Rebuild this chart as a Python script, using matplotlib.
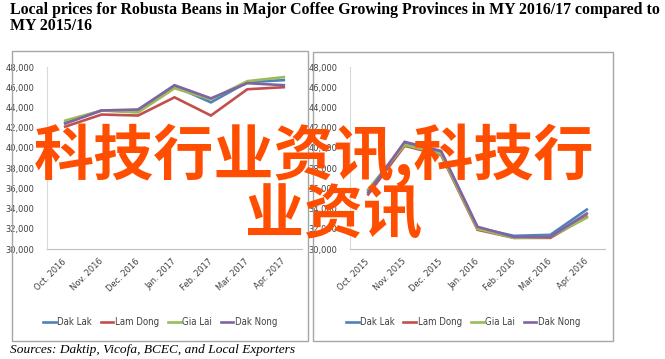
import matplotlib
matplotlib.use("Agg")
import matplotlib.pyplot as plt
from matplotlib.patches import Rectangle
from matplotlib.ticker import FuncFormatter
from matplotlib import font_manager

title_text = ("Local prices for Robusta Beans in Major Coffee Growing Provinces in MY 2016/17 compared to\n"
              "MY 2015/16")
source_text = "Sources: Daktip, Vicofa, BCEC, and Local Exporters"
overlay_line1 = "科技行业资讯,科技行"
overlay_line2 = "业资讯"

series_names = ["Dak Lak", "Lam Dong", "Gia Lai", "Dak Nong"]
series_colors = ["#4F81BD", "#C0504D", "#9BBB59", "#8064A2"]

months_1617 = ["Oct. 2016", "Nov. 2016", "Dec. 2016", "Jan. 2017", "Feb. 2017", "Mar. 2017", "Apr. 2017"]
dak_lak_1617 = [42500, 43700, 43600, 46100, 44500, 46500, 46700]
lam_dong_1617 = [42100, 43300, 43200, 45000, 43200, 45800, 46000]
gia_lai_1617 = [42700, 43700, 43500, 45900, 44800, 46600, 47000]
dak_nong_1617 = [42400, 43700, 43800, 46200, 44900, 46400, 46200]

months_1516 = ["Oct. 2015", "Nov. 2015", "Dec. 2015", "Jan. 2016", "Feb. 2016", "Mar. 2016", "Apr. 2016"]
dak_lak_1516 = [35800, 40400, 39600, 32100, 31300, 31400, 33900]
lam_dong_1516 = [35400, 40200, 39300, 31900, 31100, 31100, 33200]
gia_lai_1516 = [35900, 40300, 39400, 32000, 31100, 31200, 33100]
dak_nong_1516 = [35600, 40600, 39700, 32200, 31200, 31200, 33500]

y_ticks = [30000, 32000, 34000, 36000, 38000, 40000, 42000, 44000, 46000, 48000]

W, H = 665, 359
fig = plt.figure(figsize=(W / 100, H / 100), dpi=100)
fig.patch.set_facecolor("white")

available = {f.name for f in font_manager.fontManager.ttflist}
if "Liberation Sans Narrow" in available:
    tick_font = ["Liberation Sans Narrow", "DejaVu Sans"]
    tick_stretch = "normal"
    tick_size = 7.2
else:
    tick_font = ["DejaVu Sans"]
    tick_stretch = "condensed"
    tick_size = 6.3

def px_rect(x0, y0, x1, y1):
    return [x0 / W, 1 - y1 / H, (x1 - x0) / W, (y1 - y0) / H]

for (x0, y0, x1, y1) in [(12, 51, 308, 341), (313, 52, 613, 341)]:
    fig.patches.append(Rectangle((x0 / W, 1 - y1 / H), (x1 - x0) / W, (y1 - y0) / H,
                                 transform=fig.transFigure, fill=False,
                                 edgecolor="#A6A6A6", linewidth=1.0, zorder=0))

panels = [
    (px_rect(47, 67, 302, 249), months_1617,
     [dak_lak_1617, lam_dong_1617, gia_lai_1617, dak_nong_1617], 160),
    (px_rect(350, 67, 605, 249), months_1516,
     [dak_lak_1516, lam_dong_1516, gia_lai_1516, dak_nong_1516], 463),
]

for rect, months, data, cx in panels:
    ax = fig.add_axes(rect)
    xs = list(range(len(months)))
    lines = []
    for name, color, vals in zip(series_names, series_colors, data):
        ln, = ax.plot(xs, vals, color=color, linewidth=1.9, label=name,
                      solid_joinstyle="miter")
        lines.append(ln)
    ax.set_xlim(-0.5, len(months) - 0.5)
    ax.set_ylim(30000, 48000)
    ax.set_yticks(y_ticks)
    ax.yaxis.set_major_formatter(FuncFormatter(lambda v, p: f"{int(v):,}"))
    ax.set_xticks(xs)
    ax.set_xticklabels(months, rotation=45, rotation_mode="anchor",
                       ha="right", va="center")
    ax.tick_params(axis="both", length=0, labelsize=tick_size + 0.4, colors="#404040")
    ax.tick_params(axis="y", pad=9)
    ax.tick_params(axis="x", pad=8)
    for lab in ax.get_xticklabels() + ax.get_yticklabels():
        lab.set_family(tick_font)
        lab.set_stretch(tick_stretch)
    for s in ["top", "right"]:
        ax.spines[s].set_visible(False)
    ax.spines["left"].set_color("#D9D9D9")
    ax.spines["bottom"].set_color("#BFBFBF")
    ax.spines["left"].set_linewidth(0.8)
    ax.spines["bottom"].set_linewidth(0.8)
    fig.legend(lines, series_names, loc="center", bbox_to_anchor=(cx / W, 1 - 322 / H),
               ncol=4, frameon=False, handlelength=1.35, handletextpad=0.15,
               columnspacing=0.9,
               prop={"family": tick_font, "size": tick_size + 0.6, "stretch": tick_stretch},
               labelcolor="#404040")

fig.text(10 / W, 1 - 2 / H, title_text, ha="left", va="top",
         family="Liberation Serif", fontweight="bold", fontsize=11.45,
         linespacing=1.02, color="black")
fig.text(10 / W, 1 - 350 / H, source_text, ha="left", va="center",
         family="Liberation Serif", style="italic", fontsize=9.6, color="black")

fig.text(314 / W, 1 - 156 / H, overlay_line1, ha="center", va="center",
         family=["Noto Sans CJK SC", "DejaVu Sans"], fontweight="bold",
         fontsize=43.3, color="#FF4E00", zorder=20)
fig.text(333 / W, 1 - 216 / H, overlay_line2, ha="center", va="center",
         family=["Noto Sans CJK SC", "DejaVu Sans"], fontweight="bold",
         fontsize=42.5, color="#FF4E00", zorder=20)

fig.savefig("out.png", dpi=100, facecolor="white")
